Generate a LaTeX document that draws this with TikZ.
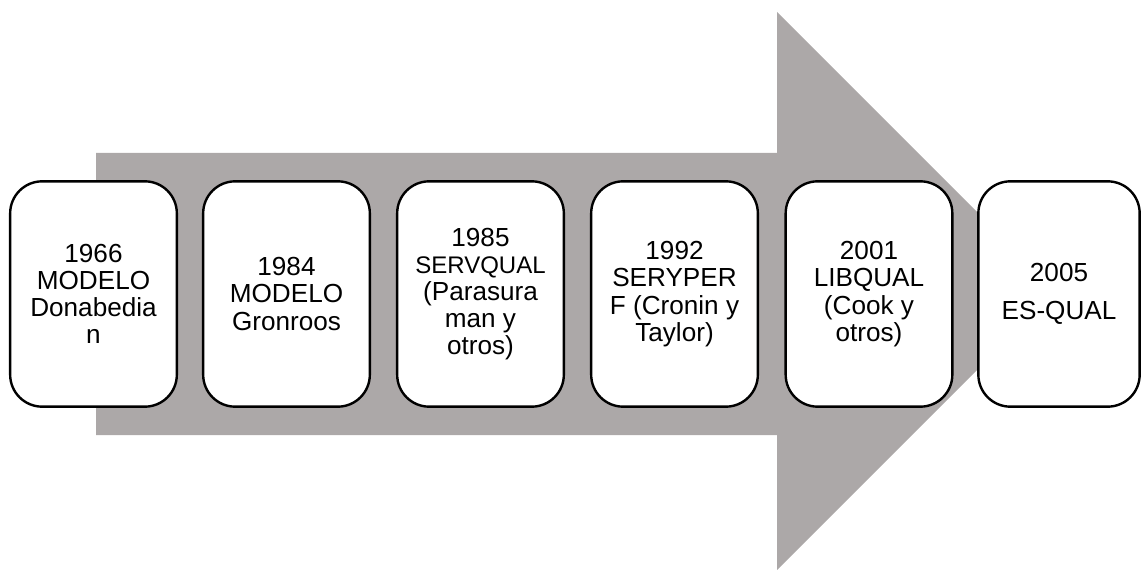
\documentclass[tikz,border=0pt]{standalone}
\usepackage{fontspec}
\setmainfont{Liberation Sans}
\definecolor{arrowgray}{RGB}{172,168,168}
\tikzset{
  modelbox/.style={draw, fill=white, line width=1.8pt, rounded corners=24pt,
    minimum width=125pt, minimum height=169pt, align=center,
    font=\fontsize{19.6}{20.4}\selectfont}
}
\begin{document}
\begin{tikzpicture}[x=0.75pt, y=-0.75pt]
\useasboundingbox (0,0) rectangle (1141,570);
\fill[arrowgray] (96,153) -- (777,153) -- (777,12) -- (1056,291) -- (777,570) -- (777,435) -- (96,435) -- cycle;
\node[modelbox] (m1966) at (93.5,294) {1966\\MODELO\\Donabedia\\n};
\node[modelbox] (m1984) at (286.5,294) {1984\\MODELO\\Gronroos};
\node[modelbox] (m1985) at (480.5,294) {1985\\{\fontsize{18}{20.4}\selectfont SERVQUAL}\\(Parasura\\man y\\otros)};
\node[modelbox] (m1992) at (674.5,294) {1992\\SERYPER\\F (Cronin y\\Taylor)};
\node[modelbox] (m2001) at (869,294) {2001\\LIBQUAL\\(Cook y\\otros)};
\node[modelbox, minimum width=121pt, font=\fontsize{19.6}{29}\selectfont] (m2005) at (1059,294) {2005\\ES-QUAL};
\end{tikzpicture}
\end{document}
